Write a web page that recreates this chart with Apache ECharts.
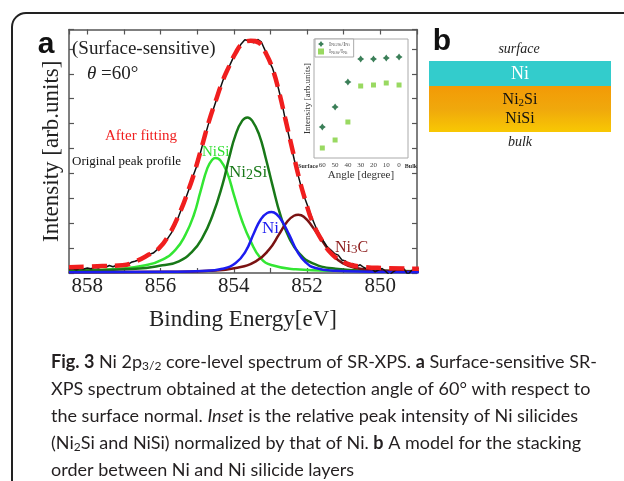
<!DOCTYPE html>
<html>
<head>
<meta charset="utf-8">
<script src="https://cdn.jsdelivr.net/npm/echarts@6/dist/echarts.min.js"></script>
<style>
  html, body { margin: 0; padding: 0; background: #fff; }
  #chart { width: 624px; height: 481px; }
</style>
</head>
<body>
<div id="chart"></div>
<script>
// original measured profile (binding energy / intensity)
const rawE = [858.5, 858.4, 858.3, 858.2, 858.1, 858.0, 857.9, 857.8, 857.7, 857.6, 857.5, 857.4, 857.3, 857.2, 857.1, 857.0,
  856.9, 856.8, 856.7, 856.6, 856.5, 856.4, 856.3, 856.2, 856.1, 856.0, 855.9, 855.8, 855.7, 855.6, 855.5, 855.4, 855.3,
  855.2, 855.1, 855.0, 854.9, 854.8, 854.7, 854.6, 854.5, 854.4, 854.3, 854.2, 854.1, 854.0, 853.9, 853.8, 853.7, 853.6,
  853.55, 853.45, 853.4, 853.35, 853.25, 853.15, 853.05, 852.95, 852.85, 852.75, 852.65, 852.55, 852.45, 852.35, 852.25,
  852.15, 852.05, 851.95, 851.85, 851.75, 851.65, 851.55, 851.45, 851.35, 851.25, 851.15, 851.05, 850.95, 850.85, 850.75,
  850.65, 850.55, 850.45, 850.35, 850.25, 850.15, 850.05, 849.95, 849.85, 849.75, 849.65, 849.55, 849.45, 849.35, 849.25,
  849.15, 849.05, 848.95];
const rawI = [0.15, 0.17, 0.13, 0.18, 0.16, 0.20, 0.17, 0.22, 0.20, 0.26, 0.23, 0.30, 0.25, 0.31, 0.29, 0.36,
  0.34, 0.43, 0.47, 0.52, 0.58, 0.63, 0.75, 0.80, 0.93, 1.05, 1.18, 1.40, 1.62, 1.92, 2.30, 2.68, 3.05,
  3.46, 3.95, 4.35, 4.90, 5.43, 5.95, 6.40, 6.85, 7.30, 7.72, 8.10, 8.38, 8.70, 8.95, 9.20, 9.37, 9.33,
  9.40, 9.25, 9.20, 9.38, 9.28, 8.95, 8.55, 8.25, 7.80, 7.22, 6.55, 5.85, 5.20, 4.55, 3.95,
  3.40, 2.95, 2.55, 2.15, 1.80, 1.52, 1.28, 1.05, 0.92, 0.78, 0.72, 0.52, 0.48, 0.32, 0.38,
  0.26, 0.33, 0.22, 0.15, 0.20, 0.05, 0.12, 0.18, 0.06, -0.08, 0.05, 0.15, 0.12, 0.16, -0.06,
  0.10, 0.13, 0.18];

// fitted envelope
const fitE = [858.5, 857.59, 857.04, 856.68, 856.32, 856.04, 855.77, 855.5, 855.22, 855.04, 854.86, 854.68, 854.5,
  854.31, 854.13, 853.95, 853.77, 853.54, 853.31, 853.13, 852.95, 852.77, 852.59, 852.4, 852.22, 852.04, 851.86,
  851.58, 851.31, 850.95, 850.49, 849.86, 848.95];
const fitI = [0.23, 0.28, 0.31, 0.47, 0.74, 1.00, 1.54, 2.34, 3.41, 4.22, 5.15, 6.09, 6.89,
  7.70, 8.30, 8.84, 9.20, 9.33, 9.24, 8.84, 8.23, 7.30, 6.16, 4.95, 3.82, 2.88, 2.07,
  1.27, 0.74, 0.40, 0.25, 0.20, 0.17];

// fitted components
const ni2siE = [858.5, 856.68, 855.95, 855.5, 855.13, 854.86, 854.59, 854.31, 854.13, 853.95, 853.77, 853.63, 853.5,
  853.31, 853.13, 852.95, 852.72, 852.49, 852.22, 851.86, 851.22, 850.31, 848.95];
const ni2siI = [0.09, 0.17, 0.31, 0.47, 0.87, 1.41, 2.28, 3.55, 4.62, 5.56, 6.12, 6.25, 6.12,
  5.56, 4.62, 3.55, 2.28, 1.41, 0.80, 0.40, 0.17, 0.09, 0.07];

const nisiE = [858.5, 857.14, 856.41, 855.95, 855.59, 855.32, 855.09, 854.91, 854.72, 854.59, 854.5, 854.36, 854.18,
  854.0, 853.77, 853.54, 853.27, 852.95, 852.31, 851.22, 848.95];
const nisiI = [0.09, 0.17, 0.31, 0.54, 0.94, 1.54, 2.34, 3.28, 4.22, 4.55, 4.62, 4.51, 4.02,
  3.15, 2.07, 1.27, 0.60, 0.31, 0.15, 0.09, 0.07];

const niE = [858.5, 855.77, 854.86, 854.31, 853.95, 853.68, 853.45, 853.27, 853.09, 852.97, 852.84, 852.68, 852.49,
  852.27, 852.04, 851.77, 851.22, 850.31, 848.95];
const niI = [0.03, 0.05, 0.08, 0.17, 0.40, 0.87, 1.61, 2.14, 2.41, 2.45, 2.37, 2.07, 1.54,
  0.87, 0.43, 0.20, 0.09, 0.05, 0.03];

const ni3cE = [858.5, 855.77, 854.68, 853.95, 853.4, 853.04, 852.77, 852.54, 852.36, 852.24, 852.09, 851.86, 851.58,
  851.31, 851.03, 850.67, 850.13, 848.95];
const ni3cI = [0.03, 0.05, 0.09, 0.20, 0.47, 0.94, 1.54, 2.07, 2.30, 2.34, 2.26, 1.87, 1.27,
  0.74, 0.40, 0.20, 0.11, 0.05];

// inset: relative intensity vs detection angle
const angles = [60, 50, 40, 30, 20, 10, 0];
const ratioNi2Si = [0.31, 0.51, 0.76, 0.99, 0.99, 1.00, 1.01];
const ratioNiSi = [0.10, 0.18, 0.36, 0.72, 0.73, 0.75, 0.73];
const angleTicks = [60, 50, 40, 30, 20, 10, 0];

const pairs = (xs, ys) => xs.map((x, i) => [x, ys[i]]);

const serif = "Liberation Serif";
const frameColor = "#555";

const chart = echarts.init(document.getElementById("chart"), null, { renderer: "canvas" });

const mainX = (pos, labels) => ({
  type: "value",
  gridIndex: 0,
  position: pos,
  min: 849,
  max: 858.5,
  interval: 1,
  inverse: true,
  axisLine: { show: true, onZero: false, lineStyle: { color: frameColor, width: 1.5 } },
  axisTick: { show: true, inside: true, length: 5, lineStyle: { color: frameColor, width: 1.2 } },
  axisLabel: {
    show: labels,
    margin: 3,
    fontFamily: serif,
    fontSize: 21,
    color: "#222",
    formatter: (v) => (Number.isInteger(v) && v % 2 === 0 ? String(v) : ""),
  },
  splitLine: { show: false },
});

const mainY = (pos) => ({
  type: "value",
  gridIndex: 0,
  position: pos,
  min: 0,
  max: 9.78,
  interval: 1,
  axisLine: { show: true, onZero: false, lineStyle: { color: frameColor, width: 1.5 } },
  axisTick: { show: true, inside: true, length: 5, lineStyle: { color: frameColor, width: 1.2 } },
  axisLabel: { show: false },
  splitLine: { show: false },
});

const txt = (x, y, text, style) => ({
  type: "text",
  x: x,
  y: y,
  z: 100,
  style: Object.assign({ text: text, fontFamily: serif, fill: "#222", verticalAlign: "middle", align: "left" }, style),
});

const capFont = 18;
const capRich = {
  b: { fontWeight: "bold", fontSize: capFont, fontFamily: "Lato", fill: "#231f20" },
  i: { fontStyle: "italic", fontSize: capFont, fontFamily: "Lato", fill: "#231f20" },
  sub: { fontSize: 12, fontFamily: "Lato", fill: "#231f20", padding: [9, 0, 0, 0] },
};
const capLine = (y, text) => txt(51, y, text, { fontFamily: "Lato", fontSize: capFont, fill: "#231f20", rich: capRich });

const option = {
  animation: false,
  backgroundColor: "#fff",
  grid: [
    { left: 69, top: 29.5, right: 207, bottom: 208, show: false, outerBoundsMode: "none" },
    { left: 314, top: 39, width: 94, height: 119, show: true, borderColor: "#aaa", borderWidth: 1,
      backgroundColor: "#fff", z: 5, outerBoundsMode: "none" },
  ],
  xAxis: [
    Object.assign(mainX("bottom", true), {
      name: "Binding Energy[eV]",
      nameLocation: "middle",
      nameGap: 35,
      nameTextStyle: { fontFamily: serif, fontSize: 23, color: "#222" },
    }),
    mainX("top", false),
    {
      type: "value",
      gridIndex: 1,
      min: -7,
      max: 66.5,
      inverse: true,
      axisLine: { show: false },
      axisTick: { show: false },
      splitLine: { show: false },
      axisLabel: { customValues: angleTicks, fontFamily: serif, fontSize: 7, color: "#444", margin: 4 },
      name: "Angle [degree]",
      nameLocation: "middle",
      nameGap: 11,
      nameTextStyle: { fontFamily: serif, fontSize: 11, color: "#333" },
    },
  ],
  yAxis: [
    Object.assign(mainY("left"), {
      name: "Intensity [arb.units]",
      nameLocation: "middle",
      nameGap: 6,
      nameTextStyle: { fontFamily: serif, fontSize: 23, color: "#222" },
    }),
    mainY("right"),
    {
      type: "value",
      gridIndex: 1,
      min: 0,
      max: 1.19,
      axisLine: { show: false },
      axisTick: { show: false },
      axisLabel: { show: false },
      splitLine: { show: false },
      name: "Intensity [arb.units]",
      nameLocation: "middle",
      nameGap: 2,
      nameTextStyle: { fontFamily: serif, fontSize: 9, color: "#333" },
    },
  ],
  legend: {
    left: 315,
    top: 39,
    orient: "vertical",
    z: 20,
    data: ["Ni2Si", "NiSi"],
    itemWidth: 6,
    itemHeight: 6,
    itemGap: 1,
    padding: [2, 4, 2, 3],
    borderColor: "#aaa",
    borderWidth: 1,
    backgroundColor: "#fff",
    textStyle: {
      fontFamily: serif,
      fontSize: 6,
      color: "#555",
      rich: { s: { fontSize: 4.5, color: "#555", fontFamily: serif, padding: [2, 0, 0, 0] } },
    },
    formatter: (name) => (name === "Ni2Si" ? "I{s|Ni2Si}/I{s|Ni}" : "I{s|NiSi}/I{s|Ni}"),
  },
  series: [
    {
      name: "NiSi comp", type: "line", xAxisIndex: 0, yAxisIndex: 0, data: pairs(nisiE, nisiI),
      smooth: true, showSymbol: false, z: 2, lineStyle: { color: "#33e633", width: 2.5 },
    },
    {
      name: "Ni2Si comp", type: "line", xAxisIndex: 0, yAxisIndex: 0, data: pairs(ni2siE, ni2siI),
      smooth: true, showSymbol: false, z: 2, lineStyle: { color: "#187818", width: 2.5 },
    },
    {
      name: "Ni3C comp", type: "line", xAxisIndex: 0, yAxisIndex: 0, data: pairs(ni3cE, ni3cI),
      smooth: true, showSymbol: false, z: 2, lineStyle: { color: "#7a1212", width: 2.5 },
    },
    {
      name: "Ni comp", type: "line", xAxisIndex: 0, yAxisIndex: 0, data: pairs(niE, niI),
      smooth: true, showSymbol: false, z: 2, lineStyle: { color: "#1c1cf0", width: 2.5 },
    },
    {
      name: "Original", type: "line", xAxisIndex: 0, yAxisIndex: 0, data: pairs(rawE, rawI),
      smooth: false, showSymbol: false, z: 3, lineStyle: { color: "#111", width: 1.5 },
    },
    {
      name: "Fit", type: "line", xAxisIndex: 0, yAxisIndex: 0, data: pairs(fitE, fitI),
      smooth: true, showSymbol: false, z: 4,
      lineStyle: { color: "#f01e1e", width: 4.5, type: [15, 8] },
    },
    {
      name: "Ni2Si", type: "scatter", xAxisIndex: 2, yAxisIndex: 2, data: pairs(angles, ratioNi2Si), z: 10,
      symbol: "path://M0,-10L4,-4L10,0L4,4L0,10L-4,4L-10,0L-4,-4Z", symbolSize: 7,
      itemStyle: { color: "#0a5f2e" },
    },
    {
      name: "NiSi", type: "scatter", xAxisIndex: 2, yAxisIndex: 2, data: pairs(angles, ratioNiSi), z: 10,
      symbol: "rect", symbolSize: 5, itemStyle: { color: "#7fcf3a" },
    },
  ],
  graphic: [
    // outer figure border
    { type: "rect", z: 0, shape: { x: 12, y: 13, width: 640, height: 500, r: 14 },
      style: { fill: "none", stroke: "#222", lineWidth: 2 } },
    txt(46, 45, "a", { fontFamily: "Liberation Sans", fontWeight: "bold", fontSize: 30, fill: "#111", align: "center" }),
    txt(442, 42, "b", { fontFamily: "Liberation Sans", fontWeight: "bold", fontSize: 30, fill: "#111", align: "center" }),
    txt(72, 49, "(Surface-sensitive)", { fontSize: 19 }),
    txt(87, 74, "{it|θ} =60°", { fontSize: 19, rich: { it: { fontStyle: "italic", fontSize: 19, fontFamily: serif, fill: "#222" } } }),
    txt(105, 136, "After fitting", { fontSize: 15, fill: "#f01e1e" }),
    txt(72, 162, "Original peak profile", { fontSize: 13, fill: "#111" }),
    txt(202, 152, "NiSi", { fontSize: 15, fill: "#2fe02f" }),
    txt(229, 173, "Ni{s|2}Si", { fontSize: 17, fill: "#187818",
      rich: { s: { fontSize: 14, fontFamily: serif, fill: "#187818", padding: [4, 0, 0, 0] } } }),
    txt(262, 229, "Ni", { fontSize: 17, fill: "#1c1cf0" }),
    txt(335, 248, "Ni{s|3}C", { fontSize: 16, fill: "#8b1a1a",
      rich: { s: { fontSize: 13, fontFamily: serif, fill: "#8b1a1a", padding: [4, 0, 0, 0] } } }),
    txt(308, 166, "Surface", { fontSize: 6, fill: "#333", align: "center", fontWeight: "bold" }),
    txt(411, 166, "Bulk", { fontSize: 6, fill: "#333", align: "center", fontWeight: "bold" }),
    // panel b: layer model
    txt(519, 49, "surface", { fontSize: 14, fontStyle: "italic", align: "center" }),
    { type: "rect", shape: { x: 429, y: 61, width: 182, height: 25 }, style: { fill: "#33cccc" } },
    {
      type: "rect", shape: { x: 429, y: 86, width: 182, height: 46 },
      style: {
        fill: new echarts.graphic.LinearGradient(0, 0, 0, 1, [
          { offset: 0, color: "#f39a06" },
          { offset: 0.5, color: "#f0a80c" },
          { offset: 1, color: "#f8c803" },
        ]),
      },
    },
    txt(520, 74, "Ni", { fontSize: 18, fill: "#fff", align: "center" }),
    txt(520, 100, "Ni{s|2}Si", { fontSize: 16, fill: "#111", align: "center",
      rich: { s: { fontSize: 11, fontFamily: serif, fill: "#111", padding: [6, 0, 0, 0] } } }),
    txt(520, 119, "NiSi", { fontSize: 16, fill: "#111", align: "center" }),
    txt(520, 142, "bulk", { fontSize: 14, fontStyle: "italic", align: "center" }),
    // caption
    capLine(362, "{b|Fig. 3} Ni 2p{sub|3/2} core-level spectrum of SR-XPS. {b|a} Surface-sensitive SR-"),
    capLine(389, "XPS spectrum obtained at the detection angle of 60° with respect to"),
    capLine(416, "the surface normal. {i|Inset} is the relative peak intensity of Ni silicides"),
    capLine(443, "(Ni{sub|2}Si and NiSi) normalized by that of Ni. {b|b} A model for the stacking"),
    capLine(470, "order between Ni and Ni silicide layers"),
  ],
};

chart.setOption(option);
</script>
</body>
</html>
